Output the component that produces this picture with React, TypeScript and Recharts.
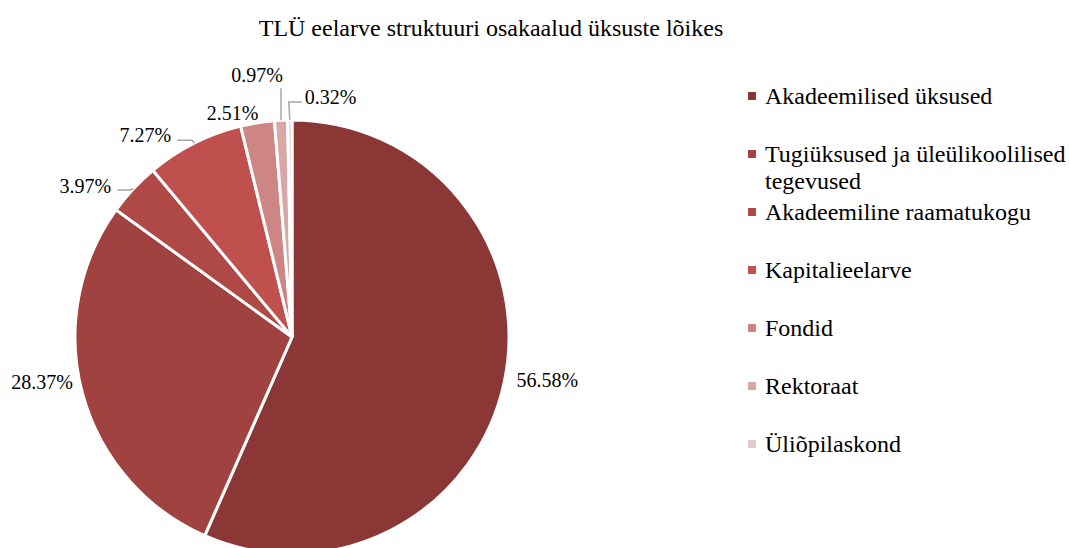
import { PieChart, Pie, Cell, Legend } from "recharts";

const units = [
  "Akadeemilised üksused",
  "Tugiüksused ja üleülikoolilised tegevused",
  "Akadeemiline raamatukogu",
  "Kapitalieelarve",
  "Fondid",
  "Rektoraat",
  "Üliõpilaskond",
];
const shares = [56.58, 28.37, 3.97, 7.27, 2.51, 0.97, 0.32];
const colors = ["#8a3735", "#9f4240", "#af4946", "#c0504d", "#cd8684", "#d9a8a6", "#e6c9c9"];

// label placement relative to the slice edge point: text offset, anchor, leader elbow points
const labelLayout = [
  { dx: 0, dy: 0, r: 42, da: 2.2, anchor: "middle", leader: [] as number[][] },
  { dx: 0, dy: 0, r: 37, da: -5, anchor: "middle", leader: [] as number[][] },
  { dx: -22, dy: -3, r: 0, da: 0, anchor: "end", leader: [[-3, 1], [-16, 1]] },
  { dx: -23, dy: -8, r: 0, da: 0, anchor: "end", leader: [[-2, -3], [-17, -3]] },
  { dx: 1, dy: -10, r: 0, da: 0, anchor: "end", leader: [] as number[][] },
  { dx: 2, dy: -45, r: 0, da: 0, anchor: "end", leader: [[0, -32]] },
  { dx: 15, dy: -23, r: 0, da: 0, anchor: "start", leader: [[-1, -18], [12, -18]] },
];

const data = units.map((name, i) => ({ name, value: shares[i] }));

const RAD = Math.PI / 180;
const FONT = "Liberation Serif";

const renderLabel = (props: any) => {
  const { cx, cy, midAngle, outerRadius, index, value } = props;
  const lay = labelLayout[index];
  const ex = cx + outerRadius * Math.cos(-midAngle * RAD);
  const ey = cy + outerRadius * Math.sin(-midAngle * RAD);
  let tx: number;
  let ty: number;
  if (lay.r > 0) {
    const a = midAngle + lay.da;
    tx = cx + (outerRadius + lay.r) * Math.cos(-a * RAD);
    ty = cy + (outerRadius + lay.r) * Math.sin(-a * RAD);
  } else {
    tx = ex + lay.dx;
    ty = ey + lay.dy;
  }
  const pts = lay.leader.length ? [[ex, ey], ...lay.leader.map(([x, y]) => [ex + x, ey + y])] : [];
  return (
    <g>
      {pts.length > 0 && (
        <polyline
          points={pts.map((p) => p.join(",")).join(" ")}
          fill="none"
          stroke="#a6a6a6"
          strokeWidth={1.5}
        />
      )}
      <text
        x={tx}
        y={ty}
        textAnchor={lay.anchor as any}
        dominantBaseline="central"
        style={{ fontFamily: FONT }}
        fontSize={20}
        fill="#000"
      >
        {value.toFixed(2)}%
      </text>
    </g>
  );
};

const renderLegend = (props: any) => {
  const { payload } = props;
  return (
    <div style={{ fontFamily: FONT, fontSize: 24, lineHeight: "27px", color: "#000" }}>
      {payload.map((entry: any, i: number) => (
        <div key={i} style={{ height: 58, display: "flex", alignItems: "flex-start" }}>
          <span
            style={{
              width: 8,
              height: 8,
              background: entry.color,
              marginTop: 9,
              marginRight: 9,
              flex: "none",
            }}
          />
          <span style={{ width: 310 }}>{entry.value}</span>
        </div>
      ))}
    </div>
  );
};

export default function App() {
  return (
    <div
      style={{
        position: "absolute",
        left: 0,
        top: 0,
        width: 1069,
        height: 548,
        overflow: "hidden",
        background: "#fff",
        fontFamily: FONT,
      }}
    >
      <div
        style={{
          position: "absolute",
          left: 0,
          width: 982,
          top: 15,
          textAlign: "center",
          fontSize: 24,
          lineHeight: "26px",
          color: "#000",
        }}
      >
        TLÜ eelarve struktuuri osakaalud üksuste lõikes
      </div>
      <PieChart
        width={1069}
        height={560}
        margin={{ top: 0, right: 0, bottom: 0, left: 0 }}
        style={{ position: "absolute", left: 0, top: 0 }}
      >
        <Pie
          data={data}
          dataKey="value"
          nameKey="name"
          cx={292}
          cy={337}
          outerRadius={217}
          startAngle={90}
          endAngle={-270}
          stroke="#fff"
          strokeWidth={3}
          label={renderLabel}
          labelLine={false}
          isAnimationActive={false}
        >
          {data.map((d, i) => (
            <Cell key={d.name} fill={colors[i]} />
          ))}
        </Pie>
        <Legend
          layout="vertical"
          itemSorter={null}
          content={renderLegend}
          wrapperStyle={{ position: "absolute", left: 748, top: 83, width: 330 }}
        />
      </PieChart>
    </div>
  );
}
